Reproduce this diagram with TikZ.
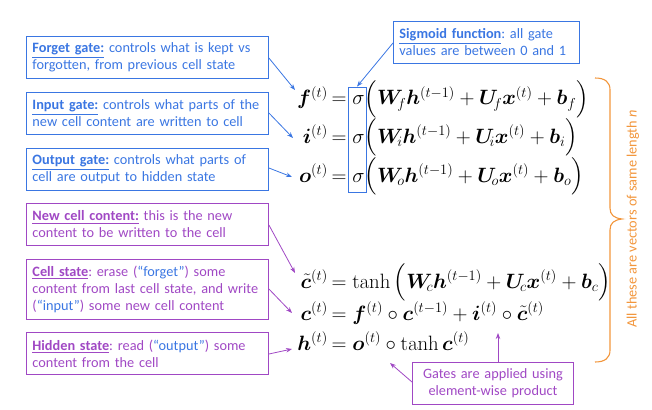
\documentclass[tikz,border=0pt]{standalone}
\usepackage{amsmath}
\usepackage{bm}
\usepackage[no-math]{fontspec}
\setmainfont{Carlito}
\frenchspacing
\usetikzlibrary{arrows.meta}
\definecolor{gblue}{RGB}{58,118,226}
\definecolor{gpurple}{RGB}{160,72,196}
\definecolor{gorange}{RGB}{242,150,60}
\newcommand{\ulb}[1]{\underline{\textbf{#1}}}
\newcommand{\tline}[1]{\mbox{#1}}
\tikzset{
  txt/.style={font=\fontsize{14.3}{17}\selectfont},
  bluebox/.style={txt, draw=gblue, line width=0.9pt, text=gblue, align=left, anchor=north west,
    text width=230pt, inner xsep=6pt, inner ysep=2pt, minimum height=42pt},
  purplebox/.style={bluebox, draw=gpurple, text=gpurple},
  blarrow/.style={draw=gblue, line width=0.8pt, -{Stealth[length=6pt,width=4.5pt]}},
  pparrow/.style={blarrow, draw=gpurple},
  eq/.style={font=\fontsize{20}{24}\selectfont, inner sep=0pt},
}
\begin{document}
\begin{tikzpicture}[x=1pt,y=-1pt]
\useasboundingbox (0,0) rectangle (652,409);
% boxes
\node[bluebox] (fg) at (26,36) {\tline{\ulb{Forget gate:} controls what is kept vs}\\\tline{forgotten, from previous cell state}};
\node[bluebox] (ig) at (26,92) {\tline{\ulb{Input gate:} controls what parts of the}\\\tline{new cell content are written to cell}};
\node[bluebox] (og) at (26,148) {\tline{\ulb{Output gate:} controls what parts of}\\\tline{cell are output to hidden state}};
\node[bluebox, text width=174pt] (sg) at (393,21) {\tline{\ulb{Sigmoid function}: all gate}\\\tline{values are between 0 and 1}};
\node[purplebox] (nc) at (26,203) {\tline{\ulb{New cell content:} this is the new}\\\tline{content to be written to the cell}};
\node[purplebox, minimum height=60pt] (cs) at (26,259) {\tline{\ulb{Cell state}: erase ({\color{gblue}“forget”}) some}\\\tline{content from last cell state, and write}\\\tline{({\color{gblue}“input”}) some new cell content}};
\node[purplebox] (hs) at (26,332) {\tline{\ulb{Hidden state}: read ({\color{gblue}“output”}) some}\\\tline{content from the cell}};
\node[purplebox, text width=149pt, align=center] (gp) at (412,362) {\tline{Gates are applied using}\\\tline{element-wise product}};
% equations
\node[eq, anchor=base east] (f) at (328,105) {$\bm{f}^{(t)}$};
\node[eq, anchor=base west] (fr) at (331.5,105) {$=\sigma\Big(\bm{W}_{\!f}\bm{h}^{(t-1)}+\bm{U}_{\!f}\bm{x}^{(t)}+\bm{b}_f\Big)$};
\node[eq, anchor=base east] (i) at (328,143) {$\bm{i}^{(t)}$};
\node[eq, anchor=base west] (ir) at (331.5,143) {$=\sigma\Big(\bm{W}_{\!i}\bm{h}^{(t-1)}+\bm{U}_{\!i}\bm{x}^{(t)}+\bm{b}_i\Big)$};
\node[eq, anchor=base east] (o) at (328,182) {$\bm{o}^{(t)}$};
\node[eq, anchor=base west] (or) at (331.5,182) {$=\sigma\Big(\bm{W}_{\!o}\bm{h}^{(t-1)}+\bm{U}_{\!o}\bm{x}^{(t)}+\bm{b}_o\Big)$};
\node[eq, anchor=base east] (ct) at (328,288) {$\tilde{\bm{c}}^{(t)}$};
\node[eq, anchor=base west] (ctr) at (331.5,288) {$=\tanh\Big(\bm{W}_{\!c}\bm{h}^{(t-1)}+\bm{U}_{\!c}\bm{x}^{(t)}+\bm{b}_c\Big)$};
\node[eq, anchor=base east] (c) at (328,320) {$\bm{c}^{(t)}$};
\node[eq, anchor=base west] (cr) at (331.5,320) {$=\bm{f}^{(t)}\circ\bm{c}^{(t-1)}+\bm{i}^{(t)}\circ\tilde{\bm{c}}^{(t)}$};
\node[eq, anchor=base east] (h) at (328,350) {$\bm{h}^{(t)}$};
\node[eq, anchor=base west] (hr) at (331.5,350) {$=\bm{o}^{(t)}\circ\tanh\bm{c}^{(t)}$};
% sigma box
\node[draw=gblue, line width=0.9pt, minimum width=18pt, minimum height=105pt, inner sep=0pt] (sb) at (357,139.5) {};
% arrows
\coordinate (tf) at (295,90);
\coordinate (ti) at (293,138);
\coordinate (to) at (292,177);
\coordinate (tct) at (295,273);
\coordinate (tc) at (292,313);
\coordinate (th) at (292,349);
\draw[blarrow] (fg.east |- 0,58) -- (tf);
\draw[blarrow] (ig.east |- 0,113) -- (ti);
\draw[blarrow] (og.east |- 0,168) -- (to);
\draw[blarrow] (sg.west |- 0,43) -- (sb.north);
\draw[pparrow] (nc.east |- 0,225) -- (tct);
\draw[pparrow] (cs.east |- 0,289) -- (tc);
\draw[pparrow] (hs.east |- 0,354) -- (th);
\coordinate (g1) at (390,363);
\coordinate (g2) at (498,333);
\draw[pparrow] (gp.west |- 0,382) -- (g1);
\draw[pparrow] (gp.north -| g2) -- (g2);
% brace
\draw[gorange, line width=1.1pt] (595,78) .. controls (605,78) and (610,82) .. (610,90) -- (610,208) .. controls (610,215) and (614,218) .. (622,219) .. controls (614,220) and (610,223) .. (610,230) -- (610,350) .. controls (610,358) and (605,362) .. (595,362);
\node[txt, text=gorange, rotate=90, inner sep=0pt] (lbl) at (633,219) {All these are vectors of same length \textit{n}};
\end{tikzpicture}
\end{document}
